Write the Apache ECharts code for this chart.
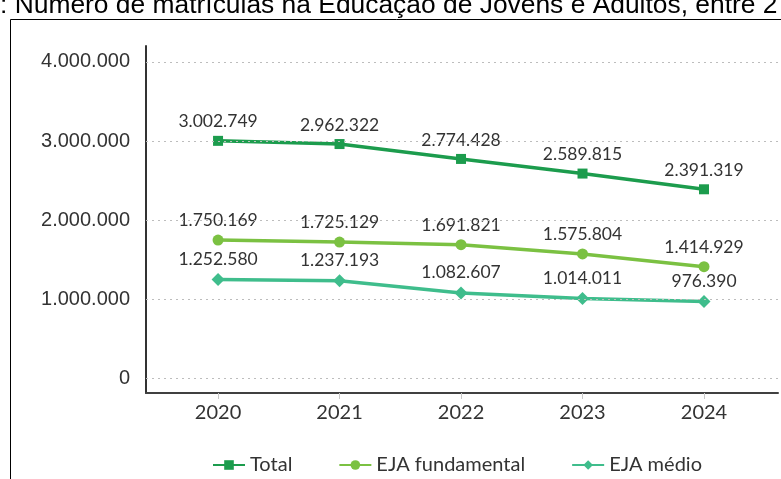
<!DOCTYPE html>
<html>
<head>
<meta charset="utf-8">
<script src="https://cdn.jsdelivr.net/npm/echarts@6/dist/echarts.min.js"></script>
<style>
html,body{margin:0;padding:0;background:#fff;}
#c{width:781px;height:479px;}
</style>
</head>
<body>
<div id="c"></div>
<script>
const years = [2020, 2021, 2022, 2023, 2024];
const total = [3002749, 2962322, 2774428, 2589815, 2391319];
const fundamental = [1750169, 1725129, 1691821, 1575804, 1414929];
const medio = [1252580, 1237193, 1082607, 1014011, 976390];
const yTicks = [0, 1000000, 2000000, 3000000, 4000000];
const seriesNames = ['Total', 'EJA fundamental', 'EJA médio'];
const titleText = ': Número de matrículas na Educação de Jovens e Adultos, entre 2';

function fmt(v) {
  return String(Math.round(v)).replace(/\B(?=(\d{3})+(?!\d))/g, '.');
}
function pairs(arr) { return years.map((y, i) => [y, arr[i]]); }

const chart = echarts.init(document.getElementById('c'), null, {renderer: 'canvas'});
const labelStyle = {
  show: true, position: 'top', distance: 5,
  fontFamily: 'Lato', fontSize: 17.5, color: '#333',
  formatter: p => fmt(p.value[1])
};
function mkSeries(name, arr, color, symbol, size, withGrid) {
  const s = {
    name: name, type: 'line', data: pairs(arr),
    symbol: symbol, symbolSize: size,
    lineStyle: {color: color, width: 3.5},
    itemStyle: {color: color},
    label: labelStyle,
    emphasis: {disabled: true},
    z: 3
  };
  if (withGrid) {
    s.markLine = {
      silent: true, symbol: 'none', animation: false,
      label: {show: false},
      lineStyle: {color: '#bdbdbd', type: [2, 4], width: 1},
      data: yTicks.map(v => ({yAxis: v}))
    };
  }
  return s;
}

chart.setOption({
  animation: false,
  backgroundColor: '#fff',
  textStyle: {fontFamily: 'Lato'},
  graphic: [
    {type: 'text', left: 0, top: -7, z: 10,
     style: {text: titleText, font: '26.4px "Liberation Sans"', fill: '#000'}},
    {type: 'rect', shape: {x: 10.5, y: 19.5, width: 800, height: 500},
     style: {fill: 'none', stroke: '#000', lineWidth: 1}, z: -1}
  ],
  grid: {left: 146, right: 3, top: 46, bottom: 86, containLabel: false},
  legend: {
    data: seriesNames, left: 207, top: 450,
    itemWidth: 32, itemHeight: 12, itemGap: 46,
    textStyle: {fontFamily: 'Lato', fontSize: 20, color: '#333'}
  },
  xAxis: {
    type: 'value', min: 2019.407, max: 2024.609,
    splitLine: {show: false},
    axisLine: {show: true, onZero: false, lineStyle: {color: '#404040', width: 2}},
    axisTick: {show: true, customValues: years, length: 6, lineStyle: {color: '#c8c8c8'}},
    axisLabel: {customValues: years, formatter: v => String(v), margin: 10,
                fontFamily: 'Lato', fontSize: 20, color: '#333'}
  },
  yAxis: {
    type: 'value', min: -180000, max: 4200000,
    splitLine: {show: false},
    axisLine: {show: true, onZero: false, lineStyle: {color: '#333', width: 2}},
    axisTick: {show: false},
    axisLabel: {customValues: yTicks, formatter: v => fmt(v), margin: 16,
                fontFamily: 'Liberation Sans', fontSize: 20, color: '#333'}
  },
  series: [
    mkSeries(seriesNames[0], total, '#1c9c4d', 'rect', 10, true),
    mkSeries(seriesNames[1], fundamental, '#7bc142', 'circle', 11, false),
    mkSeries(seriesNames[2], medio, '#3fbd8c', 'diamond', 13, false)
  ]
});
</script>
</body>
</html>
